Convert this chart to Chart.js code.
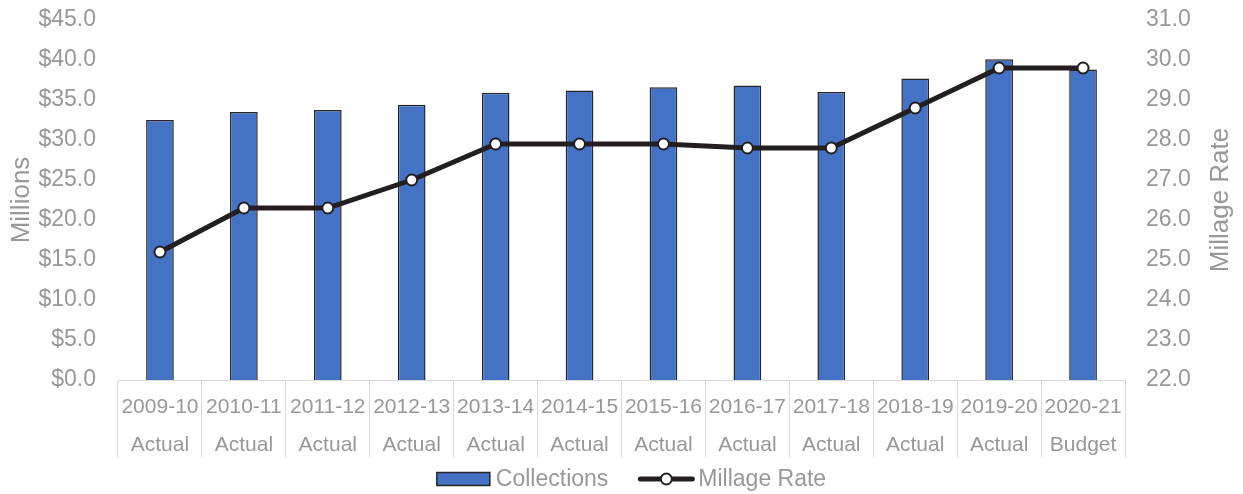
<!DOCTYPE html>
<html>
<head>
<meta charset="utf-8">
<title>Collections and Millage Rate</title>
<script src="https://cdn.jsdelivr.net/npm/chart.js@4"></script>
<style>
    html, body { margin: 0; padding: 0; background: #fff; }
    canvas { display: block; }
</style>
</head>
<body>
<canvas id="chart" width="1243" height="494"></canvas>
<script>
(function () {
    'use strict';

    var years = ['2009-10', '2010-11', '2011-12', '2012-13', '2013-14', '2014-15',
                 '2015-16', '2016-17', '2017-18', '2018-19', '2019-20', '2020-21'];
    var kinds = ['Actual', 'Actual', 'Actual', 'Actual', 'Actual', 'Actual',
                 'Actual', 'Actual', 'Actual', 'Actual', 'Actual', 'Budget'];
    // collections in millions of dollars
    var collections = [32.5, 33.5, 33.75, 34.4, 35.9, 36.2, 36.6, 36.8, 36.0, 37.7, 40.1, 38.8];
    var millageRate = [25.2, 26.3, 26.3, 27.0, 27.9, 27.9, 27.9, 27.8, 27.8, 28.8, 29.8, 29.8];

    var grey = '#989898';
    var fontFamily = '"Liberation Sans", Arial, sans-serif';
    var barColor = '#4472C4';
    var barEdge = '#262626';
    var lineColor = '#231F20';

    var labels = years.map(function (y, i) { return [y, kinds[i]]; });

    // fixed side widths; labels may overhang the plot top
    function sideFit(scale) {
        scale.width = 118;
        scale.paddingTop = 0;
        scale.paddingBottom = 0;
    }

    // right title reads bottom-to-top, and the legend needs a line+marker swatch
    var extras = {
        id: 'extras',
        afterDraw: function (chart) {
            var ctx = chart.ctx;
            var yr = chart.scales.y1;
            var area = chart.chartArea;

            ctx.save();
            ctx.fillStyle = grey;
            ctx.font = '26px ' + fontFamily;
            ctx.textAlign = 'center';
            ctx.textBaseline = 'middle';
            ctx.translate(yr.right - 22, (area.top + area.bottom) / 2);
            ctx.rotate(-Math.PI / 2);
            ctx.fillText('Millage Rate', 0, 0);
            ctx.restore();

            // legend
            var ds = chart.data.datasets;
            ctx.save();
            ctx.font = '23px ' + fontFamily;
            ctx.textBaseline = 'middle';
            var w0 = ctx.measureText(ds[0].label).width;
            var w1 = ctx.measureText(ds[1].label).width;
            var total = 53 + 6 + w0 + 30 + 56 + 4 + w1;
            var x = (area.left + area.right) / 2 + 10 - total / 2;
            var y = 479;

            ctx.fillStyle = ds[0].backgroundColor;
            ctx.strokeStyle = ds[0].borderColor;
            ctx.lineWidth = 1.5;
            ctx.fillRect(x, y - 6.5, 53, 13);
            ctx.strokeRect(x, y - 6.5, 53, 13);
            x += 53 + 6;
            ctx.fillStyle = grey;
            ctx.fillText(ds[0].label, x, y + 1);
            x += w0 + 30;

            ctx.strokeStyle = ds[1].borderColor;
            ctx.lineWidth = 5;
            ctx.lineCap = 'round';
            ctx.beginPath();
            ctx.moveTo(x + 2, y);
            ctx.lineTo(x + 54, y);
            ctx.stroke();
            ctx.beginPath();
            ctx.arc(x + 28, y, 5.5, 0, Math.PI * 2);
            ctx.fillStyle = '#fff';
            ctx.fill();
            ctx.lineWidth = 2;
            ctx.stroke();
            x += 56 + 4;
            ctx.fillStyle = grey;
            ctx.fillText(ds[1].label, x, y + 1);
            ctx.restore();
        }
    };

    new Chart(document.getElementById('chart'), {
        type: 'bar',
        data: {
            labels: labels,
            datasets: [{
                type: 'bar',
                label: 'Collections',
                data: collections,
                yAxisID: 'y',
                backgroundColor: barColor,
                borderColor: barEdge,
                borderWidth: 1.5,
                barPercentage: 0.33,
                categoryPercentage: 1,
                order: 2
            }, {
                type: 'line',
                label: 'Millage Rate',
                data: millageRate,
                yAxisID: 'y1',
                borderColor: lineColor,
                borderWidth: 5,
                pointRadius: 5.5,
                pointBorderWidth: 2,
                pointBackgroundColor: '#fff',
                pointBorderColor: lineColor,
                tension: 0,
                order: 1
            }]
        },
        options: {
            responsive: false,
            animation: false,
            devicePixelRatio: 1,
            layout: { padding: { top: 20, bottom: 34, left: 0, right: 0 } },
            plugins: {
                legend: { display: false },
                tooltip: { enabled: false }
            },
            scales: {
                x: {
                    offset: true,
                    grid: {
                        offset: true,
                        drawOnChartArea: false,
                        tickLength: 78,
                        color: '#d9d9d9',
                        lineWidth: 1
                    },
                    border: { display: true, color: '#d9d9d9', width: 1 },
                    ticks: {
                        color: grey,
                        font: { family: fontFamily, size: 21, lineHeight: 38 / 21 },
                        padding: -70,
                        maxRotation: 0,
                        autoSkip: false
                    },
                    afterFit: function (scale) { scale.height = 80; }
                },
                y: {
                    position: 'left',
                    min: 0,
                    max: 45,
                    grid: { display: false, drawTicks: false },
                    border: { display: false },
                    ticks: {
                        stepSize: 5,
                        padding: 22,
                        color: grey,
                        font: { family: fontFamily, size: 23 },
                        callback: function (v) { return '$' + v.toFixed(1); }
                    },
                    title: {
                        display: true,
                        text: 'Millions',
                        color: grey,
                        font: { family: fontFamily, size: 26 },
                        padding: { top: 6, bottom: 0 }
                    },
                    afterFit: sideFit
                },
                y1: {
                    position: 'right',
                    min: 22,
                    max: 31,
                    grid: { display: false, drawTicks: false },
                    border: { display: false },
                    ticks: {
                        stepSize: 1,
                        padding: 21,
                        color: grey,
                        font: { family: fontFamily, size: 23 },
                        callback: function (v) { return v.toFixed(1); }
                    },
                    afterFit: sideFit
                }
            }
        },
        plugins: [extras]
    });
})();
</script>
</body>
</html>
